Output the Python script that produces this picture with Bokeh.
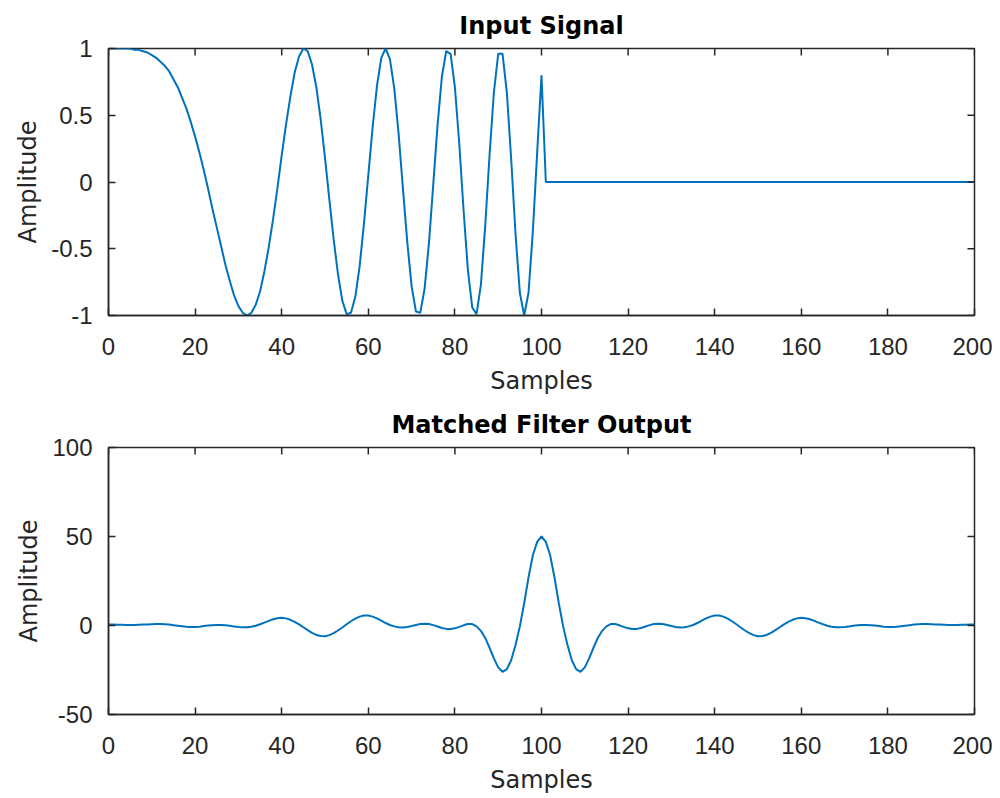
import math
from bokeh.plotting import figure
from bokeh.models import Range1d, FixedTicker
from bokeh.layouts import column
from bokeh.embed import file_html
from bokeh.resources import INLINE

# ---------------- data ----------------
sample_index = list(range(0, 201))

input_signal = [
    1.00, 1.00, 1.00, 1.00, 1.00, 1.00, 0.99, 0.99, 0.98, 0.97,
    0.95, 0.93, 0.90, 0.87, 0.83, 0.77, 0.71, 0.63, 0.55, 0.45,
    0.34, 0.22, 0.09, -0.05, -0.20, -0.34, -0.48, -0.62, -0.74, -0.85,
    -0.93, -0.98, -1.00, -0.98, -0.92, -0.82, -0.67, -0.49, -0.28, -0.05,
    0.20, 0.43, 0.64, 0.82, 0.94, 1.00, 0.98, 0.88, 0.71, 0.47,
    0.18, -0.13, -0.43, -0.69, -0.89, -0.99, -0.98, -0.86, -0.63, -0.31,
    0.05, 0.41, 0.72, 0.93, 1.00, 0.92, 0.70, 0.36, -0.05, -0.45,
    -0.78, -0.97, -0.98, -0.80, -0.46, -0.02, 0.43, 0.79, 0.98, 0.96,
    0.71, 0.29, -0.21, -0.66, -0.94, -0.99, -0.77, -0.33, 0.20, 0.67,
    0.96, 0.96, 0.67, 0.17, -0.39, -0.83, -1.00, -0.83, -0.37, 0.22,
    0.80,
    0.0, 0.0, 0.0, 0.0, 0.0, 0.0, 0.0, 0.0, 0.0, 0.0,
    0.0, 0.0, 0.0, 0.0, 0.0, 0.0, 0.0, 0.0, 0.0, 0.0,
    0.0, 0.0, 0.0, 0.0, 0.0, 0.0, 0.0, 0.0, 0.0, 0.0,
    0.0, 0.0, 0.0, 0.0, 0.0, 0.0, 0.0, 0.0, 0.0, 0.0,
    0.0, 0.0, 0.0, 0.0, 0.0, 0.0, 0.0, 0.0, 0.0, 0.0,
    0.0, 0.0, 0.0, 0.0, 0.0, 0.0, 0.0, 0.0, 0.0, 0.0,
    0.0, 0.0, 0.0, 0.0, 0.0, 0.0, 0.0, 0.0, 0.0, 0.0,
    0.0, 0.0, 0.0, 0.0, 0.0, 0.0, 0.0, 0.0, 0.0, 0.0,
    0.0, 0.0, 0.0, 0.0, 0.0, 0.0, 0.0, 0.0, 0.0, 0.0,
    0.0, 0.0, 0.0, 0.0, 0.0, 0.0, 0.0, 0.0, 0.0, 0.0,
]

matched_output = [
    0.5, 0.5, 0.4, 0.4, 0.3, 0.3, 0.3, 0.4, 0.5, 0.6,
    0.7, 0.8, 0.8, 0.7, 0.5, 0.2, -0.1, -0.4, -0.7, -0.9,
    -0.9, -0.7, -0.3, 0.0, 0.2, 0.3, 0.3, 0.1, -0.2, -0.5,
    -0.8, -1.0, -1.0, -0.7, -0.1, 0.7, 1.6, 2.6, 3.5, 4.1,
    4.3, 4.0, 3.2, 2.0, 0.6, -1.0, -2.6, -4.1, -5.3, -5.9,
    -6.0, -5.4, -4.3, -2.8, -1.1, 0.7, 2.4, 3.9, 5.0, 5.6,
    5.6, 5.0, 4.0, 2.7, 1.4, 0.3, -0.5, -1.0, -1.1, -0.8,
    -0.3, 0.3, 0.8, 1.0, 0.8, 0.2, -0.6, -1.4, -1.9, -2.0,
    -1.6, -0.8, 0.1, 0.8, 0.8, -0.5, -3.0, -7.0, -12.5, -18.5,
    -23.5, -26.0, -24.5, -19.5, -11.0, -0.5, 12.5, 27.0, 39.5, 47.0,
    50.0,
    47.0, 39.5, 27.0, 12.5, -0.5, -11.0, -19.5, -24.5, -26.0, -23.5,
    -18.5, -12.5, -7.0, -3.0, -0.5, 0.8, 0.8, 0.1, -0.8, -1.6,
    -2.0, -1.9, -1.4, -0.6, 0.2, 0.8, 1.0, 0.8, 0.3, -0.3,
    -0.8, -1.1, -1.0, -0.5, 0.3, 1.4, 2.7, 4.0, 5.0, 5.6,
    5.6, 5.0, 3.9, 2.4, 0.7, -1.1, -2.8, -4.3, -5.4, -6.0,
    -5.9, -5.3, -4.1, -2.6, -1.0, 0.6, 2.0, 3.2, 4.0, 4.3,
    4.1, 3.5, 2.6, 1.6, 0.7, -0.1, -0.7, -1.0, -1.0, -0.8,
    -0.5, -0.2, 0.1, 0.3, 0.3, 0.2, 0.0, -0.3, -0.7, -0.9,
    -0.9, -0.7, -0.4, -0.1, 0.2, 0.5, 0.7, 0.8, 0.8, 0.7,
    0.6, 0.5, 0.4, 0.3, 0.3, 0.3, 0.4, 0.4, 0.5, 0.5,
]

x_ticks = [0, 20, 40, 60, 80, 100, 120, 140, 160, 180, 200]
x_tick_labels = ["0", "20", "40", "60", "80", "100", "120", "140", "160", "180", "200"]
top_y_ticks = [-1, -0.5, 0, 0.5, 1]
top_y_labels = ["-1", "-0.5", "0", "0.5", "1"]
bottom_y_ticks = [-50, 0, 50, 100]
bottom_y_labels = ["-50", "0", "50", "100"]

# ---------------- styling ----------------
LINE_COLOR = "#0072BD"
AX_COLOR = "#262626"
TICK_FONT = "Liberation Sans"
LABEL_FONT = "DejaVu Sans"


def style_axis(ax, ticks, labels, label_standoff):
    ax.ticker = FixedTicker(ticks=ticks)
    ax.major_label_overrides = {float(t): s for t, s in zip(ticks, labels)}
    ax.axis_line_color = AX_COLOR
    ax.axis_line_width = 1.5
    ax.major_tick_line_color = AX_COLOR
    ax.major_tick_line_width = 1.5
    ax.major_tick_in = 7
    ax.major_tick_out = 0
    ax.minor_tick_line_color = None
    ax.major_label_text_color = AX_COLOR
    ax.major_label_text_font = TICK_FONT
    ax.major_label_text_font_size = "24px"
    ax.major_label_standoff = label_standoff
    ax.axis_label_text_font = LABEL_FONT
    ax.axis_label_text_font_size = "24px"
    ax.axis_label_text_font_style = "normal"
    ax.axis_label_text_color = AX_COLOR


def make_panel(title, ys, y_lo, y_hi, y_ticks, y_labels, height, top, bottom):
    p = figure(width=992, height=height,
               x_range=Range1d(0, 200), y_range=Range1d(y_lo, y_hi),
               output_backend="svg", toolbar_location=None,
               min_border_left=108, min_border_right=18,
               min_border_top=top, min_border_bottom=bottom,
               title=title)
    p.title.text_font = LABEL_FONT
    p.title.text_font_size = "24px"
    p.title.text_font_style = "bold"
    p.title.text_color = "#000000"
    p.title.align = "center"
    p.title.standoff = 18
    p.grid.visible = False
    p.outline_line_color = AX_COLOR
    p.outline_line_width = 1.5
    p.background_fill_color = "white"
    p.border_fill_color = "white"

    p.line(sample_index, ys, line_color=LINE_COLOR, line_width=2)

    # mirrored tick marks on the top and right edges of the box (clipped to the frame)
    p.scatter(x_ticks, [y_hi] * len(x_ticks), marker="dash", size=14,
              angle=math.pi / 2, line_color=AX_COLOR, line_width=1.5)
    p.scatter([200] * len(y_ticks), y_ticks, marker="dash", size=14,
              angle=0, line_color=AX_COLOR, line_width=1.5)

    style_axis(p.xaxis[0], x_ticks, x_tick_labels, 22)
    p.xaxis[0].axis_label = "Samples"
    p.xaxis[0].axis_label_standoff = 9
    style_axis(p.yaxis[0], y_ticks, y_labels, 16)
    p.yaxis[0].axis_label = "Amplitude"
    p.yaxis[0].axis_label_standoff = 6
    return p


p1 = make_panel("Input Signal", input_signal, -1, 1, top_y_ticks, top_y_labels,
                399, 48, 84)
p2 = make_panel("Matched Filter Output", matched_output, -50, 100,
                bottom_y_ticks, bottom_y_labels, 398, 48, 83)

layout = column(p1, p2)
open("out.html", "w").write(file_html(layout, INLINE))
